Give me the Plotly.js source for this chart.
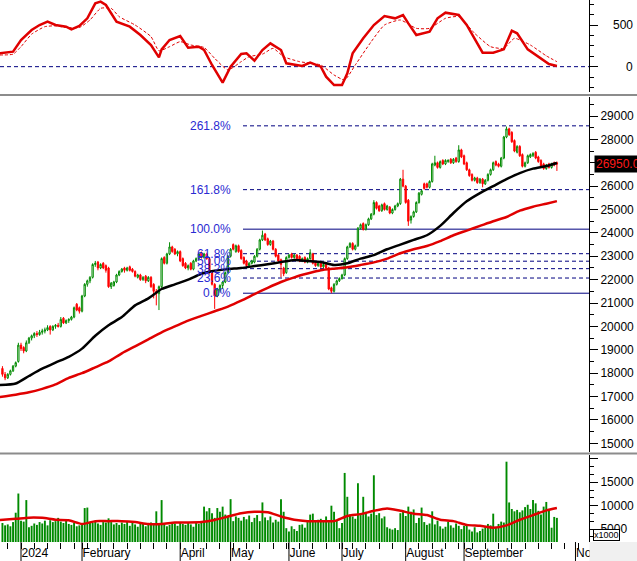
<!DOCTYPE html>
<html><head><meta charset="utf-8">
<script src="https://cdn.plot.ly/plotly-3.0.1.min.js"></script>
<style>html,body{margin:0;padding:0;background:#fff}#chart{width:637px;height:561px}</style>
</head><body><div id="chart"></div>
<script>
// ---- daily candles (trading-day index 0..209, Dec 2023 .. Oct 2024) ----
const openP = [
18200,17950,17800,17950,18100,18300,18500,19200,19100,18950,
19300,19500,19600,19700,19650,19750,19800,19850,20000,19850,
20000,20050,20000,20350,20150,20250,20300,20400,20950,20800,
20650,21300,21800,21950,22100,22650,22750,22500,22700,22600,
22500,21700,21750,21900,22200,22350,22500,22400,22550,22450,
22350,22100,22200,22000,22150,21950,22100,21800,21500,21400,
21700,22950,22700,23100,23400,23300,23100,23200,22900,22700,
22500,22700,22450,22800,22900,23150,22950,23100,22900,22300,
21800,21300,21550,21750,21900,22300,23000,23500,23200,23450,
23250,22950,22800,22600,22700,22750,23000,23300,23700,23950,
23750,23500,23650,23300,23050,22850,22500,22300,22950,23100,
22950,23050,23000,22800,22950,22750,22900,23100,22750,22600,
22700,22550,22650,22500,21650,21500,21800,21950,22050,22200,
22900,23400,23550,23300,23450,24200,24400,24150,24350,24600,
24800,25300,25150,24950,25250,25000,25100,24850,25000,25150,
25250,26300,26000,25400,24550,24700,24900,25300,25650,26100,
26100,25950,26200,26900,27000,26800,27100,26950,27050,27150,
27000,27200,27050,27550,27300,27000,26700,26500,26250,26350,
26150,26300,26100,26250,26500,26700,27050,26950,26850,27200,
28100,28450,28300,27950,27450,27700,27350,26850,27000,27250,
27300,27450,27250,27100,26950,26750,26950,26800,27000,27000];
const highP = [
18300,18050,18000,18150,18350,18500,19300,19300,19150,19400,
19550,19650,19750,19800,19850,19900,19950,20050,20050,20050,
20100,20150,20400,20400,20300,20350,20450,20850,21000,20850,
21350,21850,22000,22150,22700,22800,22800,22700,22750,22650,
22550,21900,21950,22250,22400,22500,22550,22550,22600,22500,
22400,22250,22250,22150,22200,22150,22150,21850,21600,21750,
22950,23000,23150,23600,23450,23350,23250,23250,22950,22750,
22650,22750,22850,22950,23150,23200,23150,23150,22950,22350,
21850,21650,21800,21950,22350,23050,23350,23550,23500,23500,
23300,23000,22850,22750,22850,23050,23350,23750,24100,24000,
23800,23700,23700,23350,23100,22900,22550,23000,23100,23150,
23100,23100,23050,22950,23000,22950,23300,23150,22800,22750,
22750,22700,22700,22550,21700,21850,22000,22100,22250,22950,
23450,23600,23600,23500,24250,24400,24450,24400,24650,24850,
25400,25350,25200,25250,25300,25200,25150,25050,25200,25300,
26350,26700,26050,25450,24750,24950,25350,25750,25850,26150,
26150,26250,27000,27300,27050,27100,27150,27150,27150,27200,
27200,27250,27750,27600,27350,27050,26750,26550,26400,26400,
26350,26350,26300,26550,26750,27050,27100,27000,27250,28150,
28550,28500,28350,28000,27750,27750,27400,27050,27350,27400,
27450,27500,27300,27150,27000,26950,27000,27000,27050,27050];
const lowP = [
17850,17700,17750,17900,18050,18250,18450,18950,18850,18900,
19250,19400,19500,19550,19600,19650,19700,19800,19650,19800,
19900,19950,19950,20100,20100,20150,20250,20350,20650,20550,
20600,21250,21700,21850,22050,22550,22400,22450,22450,22300,
21650,21600,21700,21850,22150,22300,22300,22350,22350,22300,
22100,22050,21950,21950,21850,21900,21650,21200,20900,20700,
21650,22650,22650,23050,23150,23050,23000,22750,22550,22450,
22400,22400,22400,22750,22850,22900,22900,22850,22250,21750,
20750,21250,21450,21600,21850,22250,22950,23250,23150,23150,
22850,22650,22550,22550,22650,22700,22950,23250,23650,23650,
23450,23450,23250,22950,22750,22100,22150,22250,22900,22900,
22900,22850,22750,22750,22700,22700,22850,22650,22550,22550,
22500,22500,22450,21550,21420,21450,21750,21900,22000,22150,
22850,23350,23250,23250,23400,24150,24100,24100,24300,24550,
24750,25000,24900,24900,24950,24950,24800,24800,24950,25100,
25200,25950,25250,24300,24400,24650,24850,25250,25600,25850,
25900,25900,26150,26850,26750,26750,26900,26900,27000,26950,
26950,27000,27000,27200,26900,26650,26400,26200,26200,26100,
26100,25950,26050,26200,26450,26650,26850,26800,26800,27150,
28050,28150,27850,27450,27400,27250,26800,26800,26950,27200,
27250,27150,27000,26800,26700,26700,26750,26750,26850,26650];
const closeP = [
17950,17800,17950,18100,18300,18450,19200,19050,18950,19300,
19500,19600,19700,19650,19750,19800,19850,19950,19850,20000,
20050,20000,20300,20150,20250,20300,20400,20800,20700,20650,
21300,21800,21950,22100,22650,22700,22500,22650,22500,22400,
21700,21850,21900,22200,22350,22450,22400,22500,22400,22350,
22150,22200,22000,22100,21950,22100,21700,21500,21400,21700,
22900,22700,23100,23400,23200,23100,23200,22800,22600,22500,
22600,22450,22800,22900,23100,22950,23100,22900,22300,21800,
21300,21600,21750,21900,22300,23000,23300,23300,23450,23200,
22900,22700,22600,22700,22800,23000,23300,23700,23900,23700,
23500,23650,23300,23000,22800,22650,22250,22950,23050,22950,
23050,22900,22800,22900,22750,22900,23150,22700,22600,22700,
22550,22650,22500,21600,21500,21800,21950,22050,22200,22900,
23400,23550,23300,23450,24200,24350,24150,24350,24600,24800,
25300,25050,24950,25200,25000,25150,24850,25000,25150,25250,
26300,26000,25300,24500,24700,24900,25300,25700,25800,25900,
25950,26200,26950,27000,26800,27050,26950,27100,27100,27000,
27150,27050,27550,27250,26950,26700,26450,26250,26350,26150,
26300,26100,26250,26500,26700,27000,26900,26850,27200,28100,
28450,28200,27900,27500,27700,27300,26850,27000,27300,27350,
27400,27200,27050,26850,26750,26900,26800,26950,26900,26950];
// volume (x1000)
const volume = [
6300,5800,6000,5600,6500,8500,12600,6800,6600,11200,
5400,5700,6200,5900,6500,6200,6800,5800,6900,6500,
6700,7400,6600,6300,6900,6100,5900,6300,5600,5800,
6200,9500,9600,6400,6300,6600,6200,5900,6500,6400,
7300,6500,6000,6300,5900,6400,6100,6600,5700,6300,
6000,5500,6200,6100,5600,5900,6400,6100,8800,6000,
11200,6300,5600,5900,6400,6200,5700,6500,6100,5900,
6300,6000,5500,6400,6100,6700,9800,8800,9500,8400,
7400,9500,8700,9800,8100,7700,11400,6700,7700,7400,
6800,7600,7100,7900,6500,7400,8000,6700,10700,7500,
6900,7700,6400,7000,6600,11400,8700,5200,4500,5600,
5000,4600,5900,6000,5300,6500,8100,8300,6600,7000,
7200,6600,7700,6500,10000,8700,6900,5200,6300,17000,
11900,8100,7700,7200,14800,8000,11900,8700,7700,8300,
16500,8000,8400,7300,7700,5400,5100,4900,5200,4800,
8400,9000,7800,9800,8700,9200,6300,7400,9600,6500,
5900,6200,8800,6000,6800,5600,5100,5500,6600,5800,
5300,6200,5700,5000,5700,6100,4900,4500,5400,4300,
4600,5100,5600,6100,5800,8300,5400,6100,6600,6400,
19400,10700,9300,8800,9100,8600,9000,9700,10200,9300,
11200,10500,8900,8100,9800,10800,9100,5300,7600,7400];
// moving averages, read every 5 sessions
const maIdx = [-1,5,10,15,20,25,30,35,40,45,50,55,60,65,70,75,80,85,90,95,100,105,110,115,120,125,130,135,140,145,150,155,160,165,170,175,180,185,190,195,200,205,209];
const maBlack = [17490,17560,17880,18190,18450,18700,19050,19600,20050,20400,20900,21200,21600,21800,22000,22250,22380,22450,22500,22580,22660,22750,22840,22800,22760,22630,22700,22900,23050,23300,23500,23700,23900,24300,24850,25350,25700,26000,26300,26560,26750,26860,26990];
const maRed = [16980,17080,17180,17330,17520,17800,18000,18250,18500,18850,19150,19450,19750,20000,20250,20450,20650,20850,21100,21380,21650,21900,22100,22260,22400,22470,22530,22630,22740,22900,23130,23300,23440,23650,23900,24100,24300,24500,24680,24950,25120,25250,25360];
const volMA = [6950,7200,7450,7400,7000,6900,6100,6700,6700,6700,6500,6100,6100,6400,6400,6500,6950,7700,8400,8700,8600,7700,7000,6700,6700,6700,7800,8200,8900,9400,8900,8300,8000,7000,6700,5900,5700,5300,5800,7000,8000,9000,9500];
// oscillator (top panel)
const oscIdx = [-1,4,7,11,14,17,20,24,26,29,32,35,37,39,43,48,52,56,59,60,63,67,70,74,76,79,83,86,90,92,95,98,101,105,107,109,113,116,120,122,125,128,130,132,136,140,144,148,151,153,156,161,164,167,172,175,181,185,189,192,194,198,201,206,209];
const oscVal = [160,180,320,440,500,540,500,480,448,488,580,760,780,740,540,480,380,260,112,208,320,368,228,240,200,20,-192,0,152,160,72,200,280,200,40,32,8,48,0,-120,-220,-220,-80,160,340,500,608,580,620,520,380,420,580,648,620,500,168,168,208,432,400,208,140,32,8];
const sigIdx = [-1,4,7,11,16,20,24,29,33,37,41,44,50,56,59,63,67,71,76,80,85,90,93,98,102,106,112,120,125,129,133,139,144,150,156,161,167,172,178,184,189,193,199,205,209];
const sigVal = [140,150,240,390,480,490,470,470,560,700,700,600,500,360,190,240,300,260,230,100,-40,60,120,150,220,120,60,20,-100,-160,20,300,500,560,460,460,580,600,400,240,220,340,260,130,60];
// Fibonacci levels
const fibLabels = ['0.0%','23.6%','38.2%','50.0%','61.8%','100.0%','161.8%','261.8%'];
const fibPrices = [21420,22070,22470,22790,23110,24160,25850,28580];
const fibSolid = [true,false,false,false,false,true,false,false];
// axes
const monthTicks = [7,30,67,86,108,128,152,174,216];
const monthLabels = ['2024','February','April','May','June','July','August','September','November'];
const volTicks = [5000,10000,15000,20000];
const volTickText = ['5000','10000','15000',''];
const lastPrice = 26950;

const idx = closeP.map((_, i) => i);
const H = 542; // plot-area height in px
const FONT = 'Liberation Sans, Arial, sans-serif';

const traces = [
  {type:'candlestick', x:idx, open:openP, high:highP, low:lowP, close:closeP, xaxis:'x', yaxis:'y',
   increasing:{line:{color:'#008a00', width:1}, fillcolor:'#ffffff'},
   decreasing:{line:{color:'#ff0000', width:1}, fillcolor:'#ff0000'},
   whiskerwidth:0, hoverinfo:'skip', showlegend:false},
  {type:'scatter', mode:'lines', x:maIdx, y:maRed, yaxis:'y', line:{color:'#e00000', width:2.5, shape:'spline', smoothing:0.6}, hoverinfo:'skip', showlegend:false},
  {type:'scatter', mode:'lines', x:maIdx, y:maBlack, yaxis:'y', line:{color:'#000000', width:2.5, shape:'spline', smoothing:0.6}, hoverinfo:'skip', showlegend:false},
  {type:'bar', x:idx, y:volume, yaxis:'y3', marker:{color:'#008a00', line:{width:0}}, width:0.72, hoverinfo:'skip', showlegend:false},
  {type:'scatter', mode:'lines', x:maIdx, y:volMA, yaxis:'y3', line:{color:'#e00000', width:2.5, shape:'spline', smoothing:0.6}, hoverinfo:'skip', showlegend:false},
  {type:'scatter', mode:'lines', x:sigIdx, y:sigVal, yaxis:'y2', line:{color:'#e00000', width:1, dash:'3px,2px', shape:'spline', smoothing:0.5}, hoverinfo:'skip', showlegend:false},
  {type:'scatter', mode:'lines', x:oscIdx, y:oscVal, yaxis:'y2', line:{color:'#e00000', width:2.5}, hoverinfo:'skip', showlegend:false}
];

const shapes = [];
// separators
[[95, '#8c8c8c', 2], [453.5, '#8c8c8c', 2]].forEach(([py, c, w]) => {
  shapes.push({type:'line', xref:'paper', yref:'paper', x0:0, x1:637/589, y0:1-py/H, y1:1-py/H, line:{color:c, width:w}, layer:'above'});
});
// zero line of oscillator
shapes.push({type:'line', xref:'paper', yref:'y2', x0:0, x1:1, y0:0, y1:0, line:{color:'#000080', width:1, dash:'4px,3px'}, layer:'below'});
// fib lines
fibPrices.forEach((p, i) => {
  shapes.push({type:'line', xref:'paper', yref:'y', x0:243/589, x1:1, y0:p, y1:p,
    line:{color:'#000080', width:1, dash: fibSolid[i] ? 'solid' : '4px,3px'}, layer:'below'});
});
// long major x ticks
monthTicks.forEach(v => {
  shapes.push({type:'line', xref:'x', yref:'paper', x0:v, x1:v, y0:0, y1:-19/H, line:{color:'#000', width:1}});
});
// grey corner under right axis
shapes.push({type:'rect', xref:'paper', yref:'paper', x0:589.5/589, x1:640/589, y0:-0.01/H, y1:-25/H, fillcolor:'#f0f0f0', line:{width:0}, layer:'above'});

const annotations = [];
fibPrices.forEach((p, i) => {
  annotations.push({xref:'paper', yref:'y', x:233/589, y:p, xanchor:'right', yanchor:'middle', text:fibLabels[i],
    showarrow:false, font:{family:FONT, size:12, color:'#2a2ad2'}});
});
annotations.push({xref:'paper', yref:'y2', x:635/589, y:500, xanchor:'right', yanchor:'middle', text:'500', showarrow:false, font:{family:FONT, size:12, color:'#000'}});
annotations.push({xref:'paper', yref:'y2', x:635/589, y:0, xanchor:'right', yanchor:'middle', text:'0', showarrow:false, font:{family:FONT, size:12, color:'#000'}});
annotations.push({xref:'paper', yref:'y', x:594/589, y:lastPrice, xanchor:'left', yanchor:'middle', text:lastPrice.toFixed(2), showarrow:false,
  bgcolor:'#000', borderpad:1, font:{family:FONT, size:12, color:'#ff1a1a'}});
annotations.push({xref:'paper', yref:'y3', x:593/589, y:3740, xanchor:'left', yanchor:'middle', text:'x1000', showarrow:false,
  bgcolor:'#fff', bordercolor:'#000', borderwidth:1, borderpad:0, font:{family:FONT, size:9, color:'#000'}});

const yBase = {side:'right', anchor:'x', showline:true, linecolor:'#000', linewidth:1, showgrid:false, zeroline:false,
  ticks:'outside', ticklen:8, tickcolor:'#000', tickfont:{family:FONT, size:12, color:'#000'}, tickformat:'d', fixedrange:true};

const layout = {
  width:637, height:561, margin:{l:0, r:48, t:0, b:19}, paper_bgcolor:'#fff', plot_bgcolor:'#fff',
  font:{family:FONT, size:12, color:'#000'}, showlegend:false, bargap:0.28,
  xaxis:{domain:[0,1], range:[-0.92, 221.1], anchor:'y3', tickmode:'array', tickvals:monthTicks, ticktext:monthLabels,
    ticks:'outside', ticklen:6, tickcolor:'#000', ticklabelposition:'outside right', tickfont:{family:FONT, size:12, color:'#000'},
    showline:false, showgrid:false, zeroline:false, rangeslider:{visible:false}, fixedrange:true,
    minor:{ticks:'outside', ticklen:6, dtick:5, tick0:2, tickcolor:'#000', showgrid:false}},
  yaxis:Object.assign({}, yBase, {domain:[1-452/H, 1-97/H], range:[14628, 29813], dtick:1000, tick0:0,
    minor:{ticks:'outside', ticklen:4, dtick:500, tick0:0, tickcolor:'#000', showgrid:false}}),
  yaxis2:Object.assign({}, yBase, {domain:[1-92/H, 1], range:[-304, 800], tickmode:'array', tickvals:[0,500], showticklabels:false,
    minor:{ticks:'outside', ticklen:4, dtick:125, tick0:0, tickcolor:'#000', showgrid:false}}),
  yaxis3:Object.assign({}, yBase, {domain:[0, 1-455/H], range:[2244, 20830], tickmode:'array', tickvals:volTicks, ticktext:volTickText,
    minor:{ticks:'outside', ticklen:4, dtick:5000/3, tick0:0, tickcolor:'#000', showgrid:false}}),
  shapes:shapes, annotations:annotations
};

Plotly.newPlot('chart', traces, layout, {staticPlot:true, displayModeBar:false});
</script>
</body></html>
